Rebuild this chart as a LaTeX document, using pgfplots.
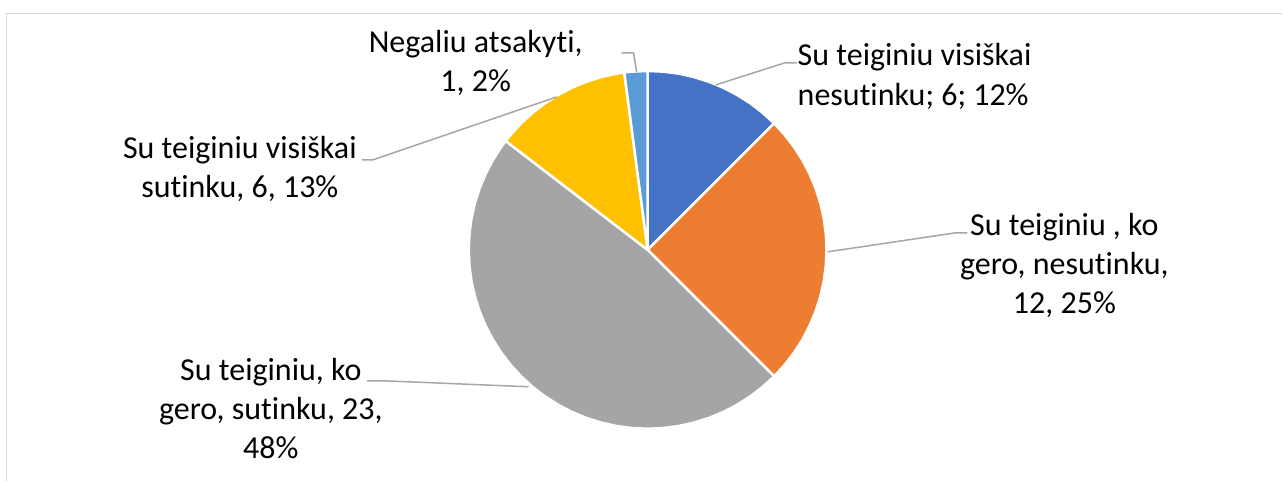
\documentclass[border=0pt]{standalone}
\usepackage{pgfplots}
\pgfplotsset{compat=1.18}
\usepackage{fontspec}
\setmainfont{Carlito}[Ligatures=CommonOff]
\definecolor{sBlue}{HTML}{4472C4}
\definecolor{sOrange}{HTML}{ED7D31}
\definecolor{sGrey}{HTML}{A5A5A5}
\definecolor{sYellow}{HTML}{FFC000}
\definecolor{sLBlue}{HTML}{5B9BD5}
\definecolor{lead}{HTML}{A6A6A6}
\definecolor{frame}{HTML}{D9D9D9}
\tikzset{lbl/.style={font=\fontsize{32}{40}\selectfont, inner sep=0pt, text=black}}
\begin{document}
\begin{tikzpicture}
% values: 6, 12, 23, 6, 1 (total 48) -> 45, 90, 172.5, 45, 7.5 degrees, clockwise from the top
\begin{axis}[
  scale only axis, width=1283pt, height=481pt,
  xmin=-648, xmax=635, ymin=-231, ymax=250,
  hide axis, clip=false,
]
\draw[frame, line width=1.5pt] (axis cs:-641.5,-231) -- (axis cs:-641.5,236.5) -- (axis cs:635,236.5);
\path (axis cs:-648,-231) rectangle (axis cs:635,250);
% slice 1: 6
\addplot[fill=sBlue, draw=white, line width=2.5pt, line join=round, data cs=polar] coordinates {
(0,0) (90,179) (85,179) (80,179) (75,179) (70,179) (65,179) (60,179) (55,179) (50,179) (45,179)} -- cycle;
% slice 2: 12
\addplot[fill=sOrange, draw=white, line width=2.5pt, line join=round, data cs=polar] coordinates {
(0,0) (45,179) (40,179) (35,179) (30,179) (25,179) (20,179) (15,179) (10,179) (5,179) (0,179)
(-5,179) (-10,179) (-15,179) (-20,179) (-25,179) (-30,179) (-35,179) (-40,179) (-45,179)} -- cycle;
% slice 3: 23
\addplot[fill=sGrey, draw=white, line width=2.5pt, line join=round, data cs=polar] coordinates {
(0,0) (-45,179) (-50,179) (-55,179) (-60,179) (-65,179) (-70,179) (-75,179) (-80,179) (-85,179)
(-90,179) (-95,179) (-100,179) (-105,179) (-110,179) (-115,179) (-120,179) (-125,179) (-130,179)
(-135,179) (-140,179) (-145,179) (-150,179) (-155,179) (-160,179) (-165,179) (-170,179) (-175,179)
(-180,179) (-185,179) (-190,179) (-195,179) (-200,179) (-205,179) (-210,179) (-215,179) (-217.5,179)} -- cycle;
% slice 4: 6
\addplot[fill=sYellow, draw=white, line width=2.5pt, line join=round, data cs=polar] coordinates {
(0,0) (-217.5,179) (-220,179) (-225,179) (-230,179) (-235,179) (-240,179) (-245,179) (-250,179)
(-255,179) (-260,179) (-262.5,179)} -- cycle;
% slice 5: 1
\addplot[fill=sLBlue, draw=white, line width=2.5pt, line join=round, data cs=polar] coordinates {
(0,0) (-262.5,179) (-265,179) (-270,179)} -- cycle;
% leader lines
\draw[lead, line width=1.5pt] (axis cs:149,187) -- (axis cs:137,187) -- (axis cs:68,165);
\draw[lead, line width=1.5pt] (axis cs:320,17) -- (axis cs:308,17) -- (axis cs:180,-2);
\draw[lead, line width=1.5pt] (axis cs:-281,-131) -- (axis cs:-265,-131) -- (axis cs:-119,-137);
\draw[lead, line width=1.5pt] (axis cs:-286,90) -- (axis cs:-275,90) -- (axis cs:-91,153);
\draw[lead, line width=1.5pt] (axis cs:-26,197) -- (axis cs:-14,197) -- (axis cs:-11,178);
% labels
\node[lbl, anchor=base west] at (axis cs:150,184) {Su teiginiu visiškai};
\node[lbl, anchor=base west] at (axis cs:150,144) {nesutinku; 6; 12\%};
\node[lbl, anchor=base] at (axis cs:417,14) {Su teiginiu , ko};
\node[lbl, anchor=base] at (axis cs:417,-25) {gero, nesutinku,};
\node[lbl, anchor=base] at (axis cs:417,-64) {12, 25\%};
\node[lbl, anchor=base] at (axis cs:-377,-131) {Su teiginiu, ko};
\node[lbl, anchor=base] at (axis cs:-377,-170) {gero, sutinku, 23,};
\node[lbl, anchor=base] at (axis cs:-377,-209) {48\%};
\node[lbl, anchor=base] at (axis cs:-408,91) {Su teiginiu visiškai};
\node[lbl, anchor=base] at (axis cs:-408,52) {sutinku, 6, 13\%};
\node[lbl, anchor=base] at (axis cs:-172,197) {Negaliu atsakyti,};
\node[lbl, anchor=base] at (axis cs:-172,158) {1, 2\%};
\end{axis}
\end{tikzpicture}
\end{document}
